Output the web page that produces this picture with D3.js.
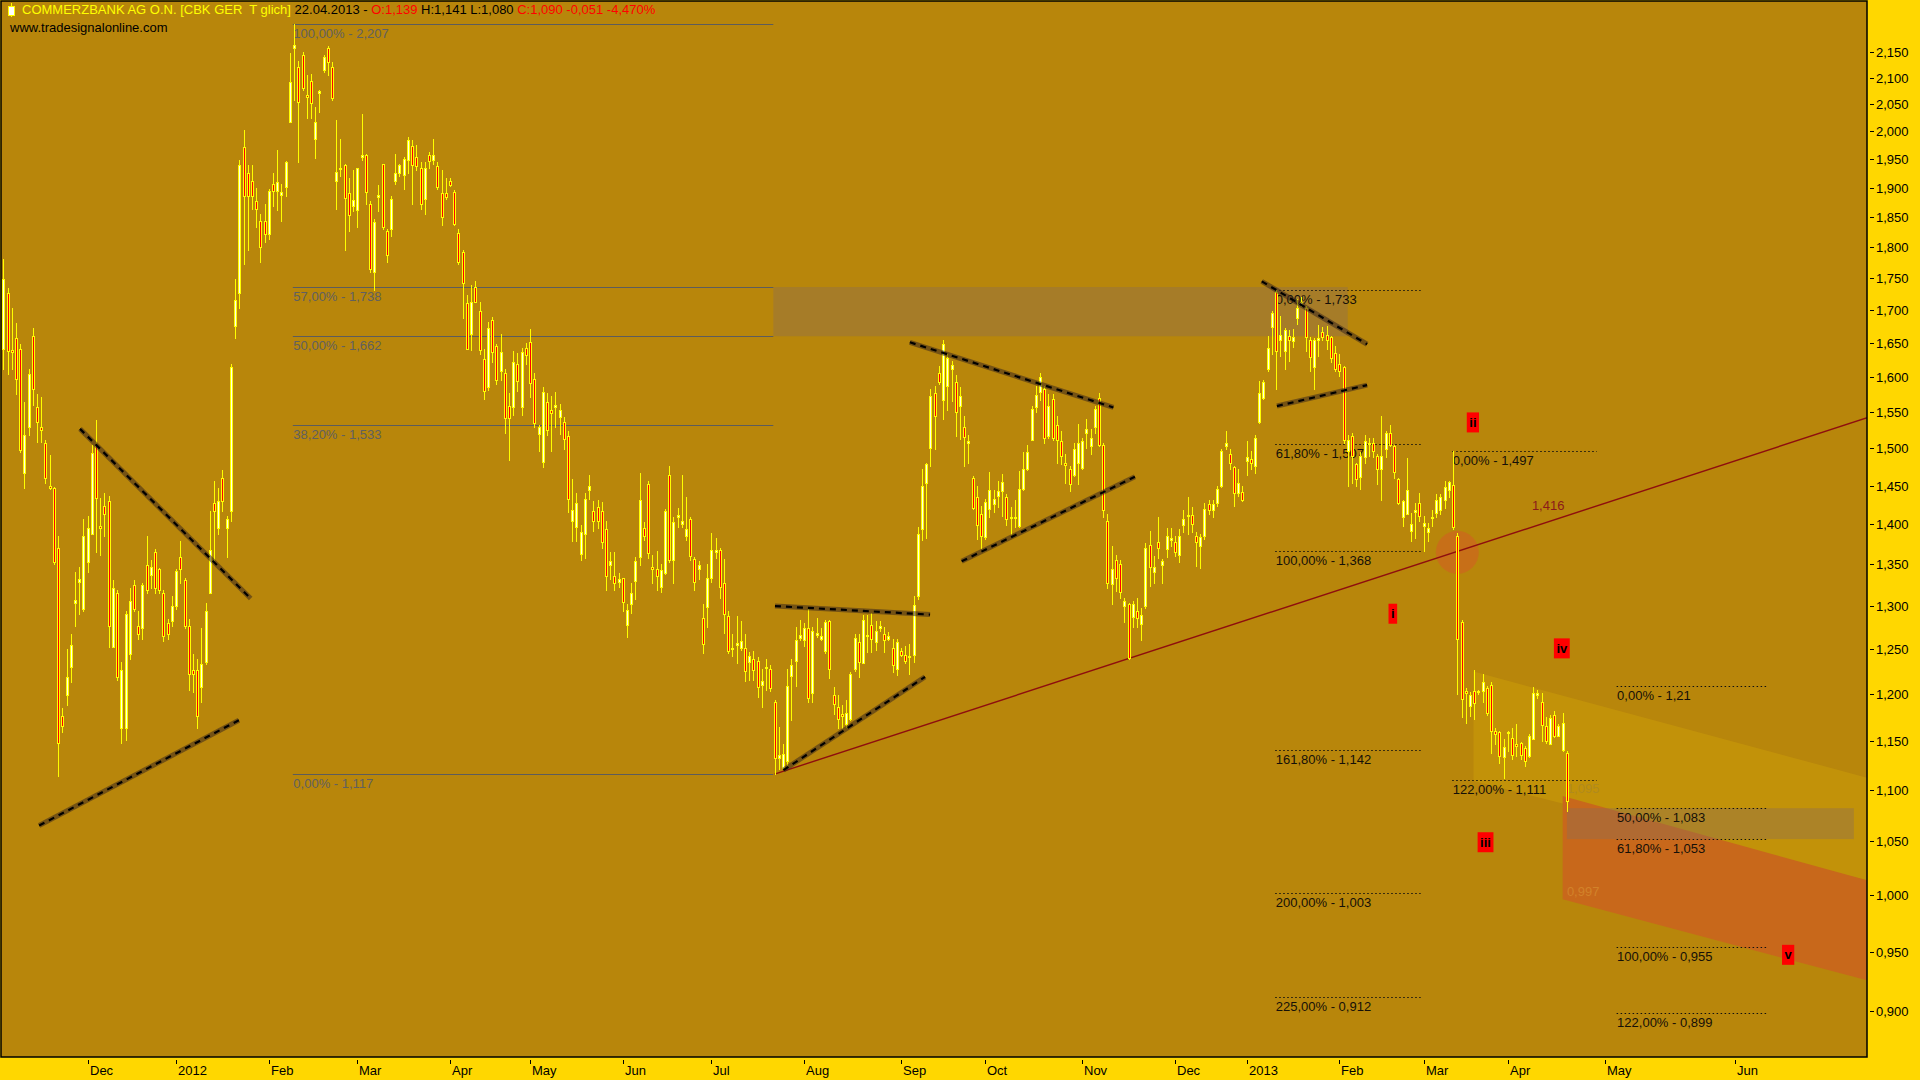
<!DOCTYPE html>
<html><head><meta charset="utf-8">
<script src="https://cdn.jsdelivr.net/npm/d3@7"></script>
<style>
html,body{margin:0;padding:0;background:#FFD700;overflow:hidden;}
svg{display:block;font-family:Arial,"Liberation Sans",sans-serif;}
text{white-space:pre;}
</style>
</head><body>
<svg id="c" width="1920" height="1080"></svg>
<script>
// ---------------- DATA ----------------
const opens=[
1.643,1.729,1.642,1.659,1.643,1.468,1.531,1.663,1.559,1.530,
1.508,1.451,1.448,1.372,1.178,1.200,1.231,1.305,1.330,1.298,
1.354,1.389,1.506,1.399,1.425,1.431,1.254,1.317,1.165,1.165,
1.246,1.326,1.278,1.275,1.351,1.338,1.367,1.346,1.317,1.281,
1.283,1.301,1.360,1.332,1.278,1.228,1.228,1.209,1.237,1.317,
1.428,1.396,1.462,1.396,1.418,1.678,1.729,1.974,1.927,1.914,
1.879,1.845,1.845,1.824,1.909,1.896,1.890,1.904,2.018,2.160,
2.122,2.146,2.068,2.096,1.988,2.073,2.117,2.160,2.122,1.914,
1.935,1.941,1.892,1.870,1.863,1.956,1.959,1.874,1.762,1.886,
1.943,1.828,1.832,1.914,1.927,1.924,1.950,1.975,1.955,1.937,
1.883,1.959,1.950,1.939,1.892,1.892,1.914,1.895,1.826,1.794,
1.713,1.665,1.738,1.700,1.628,1.587,1.686,1.647,1.611,1.608,
1.560,1.558,1.620,1.559,1.644,1.653,1.599,1.521,1.483,1.566,
1.555,1.558,1.544,1.538,1.518,1.405,1.398,1.364,1.389,1.446,
1.418,1.423,1.418,1.395,1.351,1.337,1.330,1.334,1.279,1.304,
1.331,1.360,1.396,1.453,1.348,1.346,1.324,1.341,1.466,1.356,
1.410,1.401,1.386,1.408,1.358,1.346,1.287,1.300,1.335,1.367,
1.369,1.328,1.289,1.252,1.256,1.252,1.252,1.237,1.240,1.238,
1.211,1.230,1.229,1.193,1.133,1.123,1.130,1.221,1.238,1.264,
1.262,1.275,1.202,1.267,1.263,1.249,1.283,1.200,1.187,1.180,
1.169,1.174,1.229,1.259,1.236,1.266,1.279,1.259,1.275,1.268,
1.263,1.252,1.229,1.249,1.244,1.242,1.245,1.313,1.395,1.455,
1.502,1.579,1.608,1.569,1.589,1.614,1.594,1.560,1.530,1.508,
1.462,1.436,1.415,1.385,1.421,1.427,1.438,1.444,1.436,1.411,
1.410,1.399,1.447,1.474,1.513,1.558,1.580,1.584,1.518,1.570,
1.534,1.511,1.481,1.474,1.466,1.482,1.475,1.523,1.505,1.530,
1.571,1.506,1.405,1.327,1.356,1.352,1.301,1.304,1.288,1.295,
1.280,1.301,1.375,1.342,1.379,1.350,1.370,1.381,1.379,1.363,
1.400,1.412,1.413,1.387,1.374,1.387,1.427,1.419,1.429,1.451,
1.505,1.494,1.476,1.442,1.443,1.484,1.487,1.478,1.538,1.572,
1.613,1.676,1.730,1.656,1.640,1.663,1.655,1.690,1.712,1.705,
1.656,1.616,1.656,1.668,1.664,1.661,1.637,1.620,1.617,1.497,
1.518,1.480,1.463,1.489,1.507,1.509,1.491,1.473,1.500,1.523,
1.504,1.460,1.411,1.414,1.393,1.417,1.429,1.399,1.391,1.410,
1.416,1.420,1.432,1.446,1.452,1.386,1.282,1.205,1.188,1.205,
1.203,1.205,1.208,1.211,1.162,1.160,1.134,1.159,1.154,1.148,
1.149,1.144,1.135,1.153,1.200,1.193,1.167,1.148,1.179,1.156,
1.142,1.139];
const highs=[
1.782,1.737,1.705,1.682,1.651,1.566,1.613,1.674,1.577,1.573,
1.513,1.492,1.450,1.386,1.186,1.251,1.269,1.342,1.348,1.408,
1.412,1.506,1.541,1.435,1.441,1.438,1.332,1.320,1.237,1.295,
1.323,1.332,1.295,1.329,1.386,1.357,1.370,1.347,1.320,1.286,
1.313,1.345,1.380,1.335,1.286,1.246,1.240,1.275,1.305,1.418,
1.457,1.448,1.472,1.412,1.620,1.750,1.950,2.005,1.941,1.941,
1.901,1.857,1.874,1.900,1.927,1.968,1.909,1.948,2.150,2.207,
2.134,2.151,2.107,2.109,2.046,2.078,2.146,2.162,2.132,2.023,
1.988,1.943,1.919,1.932,1.937,2.034,1.961,1.879,1.849,1.907,
1.943,1.832,1.888,1.961,1.943,1.955,1.991,1.986,1.977,1.946,
1.946,1.964,1.988,1.946,1.932,1.919,1.919,1.898,1.832,1.798,
1.725,1.741,1.747,1.714,1.643,1.684,1.691,1.650,1.665,1.613,
1.578,1.640,1.637,1.644,1.652,1.673,1.607,1.533,1.587,1.578,
1.575,1.580,1.563,1.544,1.525,1.460,1.442,1.400,1.442,1.466,
1.431,1.433,1.430,1.405,1.367,1.367,1.341,1.335,1.303,1.328,
1.360,1.468,1.404,1.458,1.363,1.368,1.352,1.421,1.477,1.411,
1.422,1.466,1.436,1.410,1.360,1.355,1.303,1.352,1.390,1.384,
1.371,1.358,1.295,1.269,1.289,1.283,1.268,1.248,1.249,1.242,
1.229,1.240,1.233,1.195,1.166,1.148,1.229,1.240,1.277,1.285,
1.281,1.299,1.276,1.287,1.275,1.285,1.285,1.209,1.200,1.189,
1.195,1.225,1.269,1.269,1.291,1.291,1.293,1.283,1.283,1.277,
1.271,1.263,1.263,1.253,1.255,1.257,1.313,1.398,1.473,1.482,
1.584,1.589,1.618,1.656,1.635,1.625,1.605,1.587,1.546,1.520,
1.464,1.451,1.425,1.434,1.469,1.445,1.458,1.467,1.440,1.423,
1.433,1.471,1.496,1.506,1.560,1.589,1.608,1.589,1.577,1.577,
1.546,1.525,1.494,1.477,1.509,1.535,1.516,1.542,1.528,1.560,
1.579,1.509,1.414,1.374,1.363,1.357,1.311,1.305,1.307,1.311,
1.299,1.378,1.393,1.362,1.410,1.358,1.397,1.396,1.387,1.395,
1.419,1.436,1.424,1.391,1.389,1.429,1.433,1.433,1.451,1.500,
1.525,1.500,1.478,1.473,1.451,1.511,1.498,1.520,1.596,1.598,
1.663,1.700,1.733,1.693,1.674,1.671,1.673,1.719,1.722,1.709,
1.661,1.659,1.679,1.676,1.677,1.663,1.647,1.635,1.618,1.520,
1.522,1.482,1.496,1.520,1.516,1.516,1.493,1.546,1.525,1.533,
1.506,1.462,1.433,1.488,1.416,1.429,1.441,1.412,1.403,1.420,
1.440,1.440,1.457,1.457,1.497,1.390,1.285,1.208,1.203,1.228,
1.206,1.223,1.210,1.214,1.165,1.162,1.153,1.162,1.165,1.169,
1.150,1.146,1.158,1.209,1.206,1.202,1.176,1.179,1.183,1.169,
1.181,1.141];
const lows=[
1.613,1.606,1.613,1.577,1.496,1.448,1.520,1.562,1.510,1.510,
1.455,1.447,1.352,1.115,1.160,1.189,1.214,1.278,1.292,1.295,
1.342,1.389,1.367,1.363,1.386,1.254,1.254,1.217,1.149,1.152,
1.240,1.295,1.263,1.263,1.317,1.323,1.317,1.317,1.260,1.263,
1.278,1.298,1.329,1.275,1.206,1.203,1.165,1.192,1.234,1.317,
1.357,1.389,1.418,1.360,1.405,1.659,1.705,1.774,1.798,1.866,
1.836,1.778,1.811,1.815,1.870,1.864,1.845,1.888,2.018,2.059,
1.946,2.078,2.027,2.027,1.954,2.037,2.112,2.107,2.059,1.866,
1.923,1.798,1.828,1.862,1.836,1.950,1.874,1.762,1.734,1.862,
1.832,1.778,1.820,1.909,1.923,1.900,1.927,1.874,1.932,1.866,
1.857,1.937,1.943,1.900,1.839,1.883,1.905,1.839,1.774,1.690,
1.643,1.642,1.714,1.636,1.570,1.583,1.624,1.592,1.597,1.523,
1.485,1.548,1.582,1.548,1.621,1.573,1.531,1.497,1.476,1.519,
1.498,1.531,1.521,1.500,1.417,1.380,1.380,1.357,1.359,1.434,
1.393,1.397,1.372,1.320,1.333,1.320,1.324,1.295,1.265,1.293,
1.309,1.350,1.382,1.359,1.328,1.320,1.318,1.339,1.354,1.329,
1.398,1.398,1.382,1.356,1.320,1.333,1.247,1.277,1.330,1.359,
1.311,1.270,1.247,1.243,1.235,1.250,1.216,1.217,1.217,1.198,
1.187,1.206,1.204,1.117,1.122,1.122,1.126,1.173,1.210,1.261,
1.255,1.193,1.193,1.265,1.261,1.247,1.219,1.180,1.165,1.165,
1.166,1.173,1.227,1.220,1.235,1.248,1.248,1.250,1.272,1.248,
1.261,1.225,1.222,1.243,1.235,1.223,1.237,1.309,1.382,1.384,
1.477,1.500,1.591,1.542,1.555,1.567,1.518,1.514,1.478,1.482,
1.421,1.383,1.372,1.383,1.410,1.417,1.424,1.412,1.400,1.389,
1.398,1.398,1.445,1.472,1.513,1.551,1.569,1.508,1.515,1.513,
1.482,1.480,1.455,1.444,1.464,1.453,1.473,1.502,1.493,1.523,
1.504,1.411,1.322,1.303,1.319,1.311,1.282,1.240,1.277,1.277,
1.262,1.299,1.325,1.329,1.359,1.329,1.360,1.374,1.362,1.354,
1.391,1.389,1.391,1.349,1.347,1.383,1.414,1.411,1.425,1.449,
1.500,1.473,1.425,1.438,1.431,1.466,1.473,1.468,1.536,1.570,
1.611,1.636,1.584,1.633,1.613,1.625,1.646,1.680,1.709,1.640,
1.611,1.584,1.633,1.656,1.643,1.623,1.611,1.603,1.508,1.451,
1.455,1.451,1.447,1.482,1.491,1.489,1.453,1.433,1.489,1.504,
1.462,1.427,1.399,1.414,1.380,1.384,1.405,1.368,1.380,1.399,
1.410,1.414,1.422,1.437,1.395,1.201,1.176,1.170,1.177,1.174,
1.201,1.193,1.179,1.139,1.148,1.128,1.113,1.141,1.132,1.136,
1.132,1.125,1.134,1.153,1.197,1.151,1.149,1.148,1.155,1.156,
1.141,1.080];
const closes=[
1.750,1.640,1.638,1.599,1.499,1.520,1.606,1.584,1.538,1.526,
1.462,1.448,1.354,1.149,1.167,1.220,1.256,1.308,1.333,1.386,
1.397,1.495,1.435,1.396,1.415,1.278,1.323,1.220,1.228,1.292,
1.307,1.298,1.269,1.326,1.320,1.348,1.323,1.320,1.266,1.269,
1.301,1.343,1.345,1.278,1.223,1.223,1.178,1.234,1.295,1.369,
1.418,1.431,1.431,1.408,1.617,1.717,1.941,1.888,1.888,1.888,
1.866,1.803,1.824,1.897,1.896,1.911,1.894,1.947,2.093,2.165,
2.056,2.083,2.065,2.053,2.018,2.076,2.141,2.132,2.064,1.929,
1.937,1.884,1.855,1.881,1.937,1.959,1.894,1.766,1.843,1.890,
1.836,1.790,1.882,1.927,1.941,1.952,1.986,1.941,1.939,1.874,
1.937,1.948,1.959,1.903,1.852,1.886,1.907,1.841,1.778,1.745,
1.643,1.714,1.715,1.642,1.582,1.675,1.639,1.597,1.638,1.543,
1.543,1.623,1.596,1.639,1.634,1.593,1.536,1.531,1.580,1.526,
1.550,1.561,1.555,1.514,1.434,1.420,1.428,1.392,1.434,1.451,
1.405,1.406,1.379,1.337,1.355,1.328,1.333,1.306,1.296,1.317,
1.355,1.432,1.386,1.365,1.346,1.337,1.344,1.418,1.356,1.404,
1.413,1.406,1.395,1.361,1.330,1.350,1.257,1.335,1.369,1.369,
1.324,1.292,1.249,1.253,1.258,1.260,1.227,1.243,1.228,1.209,
1.215,1.231,1.208,1.133,1.137,1.138,1.210,1.233,1.262,1.267,
1.275,1.197,1.272,1.270,1.266,1.282,1.229,1.190,1.174,1.178,
1.181,1.223,1.264,1.237,1.285,1.267,1.263,1.272,1.278,1.261,
1.266,1.233,1.259,1.245,1.238,1.243,1.302,1.389,1.451,1.480,
1.575,1.546,1.594,1.651,1.630,1.619,1.551,1.574,1.517,1.511,
1.422,1.400,1.387,1.430,1.445,1.434,1.444,1.456,1.408,1.409,
1.411,1.447,1.474,1.496,1.556,1.576,1.601,1.515,1.560,1.515,
1.513,1.491,1.479,1.453,1.500,1.509,1.511,1.528,1.516,1.556,
1.506,1.420,1.329,1.346,1.334,1.318,1.307,1.241,1.304,1.287,
1.291,1.371,1.348,1.348,1.371,1.355,1.387,1.384,1.366,1.387,
1.408,1.413,1.402,1.379,1.385,1.421,1.420,1.427,1.447,1.498,
1.509,1.482,1.442,1.455,1.433,1.490,1.482,1.516,1.579,1.594,
1.645,1.697,1.640,1.664,1.672,1.657,1.661,1.705,1.714,1.661,
1.631,1.656,1.659,1.661,1.657,1.629,1.614,1.611,1.513,1.513,
1.491,1.460,1.491,1.511,1.509,1.497,1.473,1.491,1.522,1.506,
1.469,1.429,1.431,1.446,1.402,1.420,1.412,1.403,1.396,1.411,
1.433,1.436,1.449,1.456,1.398,1.263,1.196,1.202,1.200,1.191,
1.204,1.214,1.181,1.162,1.158,1.136,1.145,1.160,1.137,1.146,
1.137,1.130,1.156,1.202,1.202,1.168,1.151,1.175,1.156,1.167,
1.170,1.090];

const firstDate="2011-11-03";
const holidays=["2011-12-26","2012-04-06","2012-04-09","2012-05-01","2012-12-24","2012-12-25","2012-12-26","2012-12-31","2013-01-01","2013-03-29","2013-04-01"];
const tickLabels=["Dec","2012","Feb","Mar","Apr","May","Jun","Jul","Aug","Sep","Oct","Nov","Dec","2013","Feb","Mar","Apr","May","Jun"];
const tickDates=["2011-12-01","2012-01-02","2012-02-01","2012-03-01","2012-04-02","2012-05-02","2012-06-01","2012-07-02","2012-08-01","2012-09-03","2012-10-01","2012-11-01","2012-12-03","2013-01-02","2013-02-01","2013-03-01","2013-04-02","2013-05-01","2013-06-01"];
const yTicks=[0.90,0.95,1.00,1.05,1.10,1.15,1.20,1.25,1.30,1.35,1.40,1.45,1.50,1.55,1.60,1.65,1.70,1.75,1.80,1.85,1.90,1.95,2.00,2.05,2.10,2.15];

// Fibonacci tools: labels, values, [startSlot,endSlot]
const fibMainLevels=["100,00%","57,00%","50,00%","38,20%","0,00%"];
const fibMainValues=[2.207,1.738,1.662,1.533,1.117];
const fibMainSpan=[68.7,182.7];
const fibALevels=["0,00%","61,80%","100,00%","161,80%","200,00%","225,00%"];
const fibAValues=[1.733,1.507,1.368,1.142,1.003,0.912];
const fibASpan=[301.8,336.3];
const fibBLevels=["0,00%","122,00%"];
const fibBValues=[1.497,1.111];
const fibBSpan=[343.8,378.1];
const fibCLevels=["0,00%","50,00%","61,80%","100,00%","122,00%"];
const fibCValues=[1.21,1.083,1.053,0.955,0.899];
const fibCSpan=[382.8,418.5];

// zones [slot, price]
const zoneTop=[[182.7,1.738],[319.0,1.662]];
const zoneLow=[[371.0,1.083],[439.1,1.053]];
const lightBand=[[348.85,1.226],[442.5,1.113],[442.5,1.014],[348.85,1.110]];
const orangeBand=[[370.0,1.095],[442.5,1.014],[442.5,0.926],[370.0,0.997]];
const bandLabels=["1,095","0,997"];
const bandLabelPos=[[371.0,1.095],[371.0,0.997]];
const circlePos=[345.0,1.366];
const supportLine=[[183,1.117],[442.5,1.544]];
const supportLabel="1,416";
const supportLabelPos=[362.7,1.416];

const trendLines=[
 [[18.2,1.528],[58.7,1.310]],
 [[8.5,1.066],[55.9,1.173]],
 [[183.1,1.301],[219.9,1.291]],
 [[185.1,1.121],[218.7,1.220]],
 [[215.1,1.653],[263.4,1.558]],
 [[227.4,1.355],[268.5,1.463]],
 [[298.6,1.747],[323.6,1.650]],
 [[302.2,1.560],[323.6,1.590]]
];
const waveLabels=["i","ii","iii","iv","v"];
const waveSlots=[329.7,348.7,351.7,369.8,423.5];
const wavePrices=[1.292,1.537,1.050,1.252,0.948];

// ---------------- DATES -> SLOTS ----------------
const dates=[];
{
  let d=new Date(firstDate+"T00:00:00Z");
  while(dates.length<closes.length){
    const wd=d.getUTCDay(); const iso=d.toISOString().slice(0,10);
    if(wd>0&&wd<6&&!holidays.includes(iso)) dates.push(iso);
    d.setUTCDate(d.getUTCDate()+1);
  }
}
const lastDate=new Date(dates[dates.length-1]+"T00:00:00Z");
function slotOf(iso){
  const i=dates.indexOf(iso); if(i>=0) return i;
  return dates.length-1+Math.round((new Date(iso+"T00:00:00Z")-lastDate)/86400000);
}

// ---------------- SCALES ----------------
const W=1920,H=1080;
const x=d3.scaleLinear().domain([0,442]).range([3.3,3.3+442*4.2145]);
const y=d3.scaleLog().domain([0.899,2.207]).range([1013.3,23.8]);
const P=([s,p])=>[x(s),y(p)];
const px=v=>Math.round(v)+0.5;
const fmt=v=>String(v).replace(".",",");

const svg=d3.select("#c");
svg.append("rect").attr("width",W).attr("height",H).attr("fill","#FFD700");
svg.append("rect").attr("x",1).attr("y",1).attr("width",1866).attr("height",1056).attr("fill","#B8860B");
svg.append("defs").append("clipPath").attr("id","clip").append("rect")
  .attr("x",1.5).attr("y",1.5).attr("width",1865.5).attr("height",1055.5);
const g=svg.append("g").attr("clip-path","url(#clip)");

// zones
const rectOf=(z)=>{const [a,b]=z.map(P);return {x:a[0],y:a[1],w:b[0]-a[0],h:b[1]-a[1]};};
{const r=rectOf(zoneTop);
 g.append("rect").attr("x",r.x).attr("y",r.y).attr("width",r.w).attr("height",r.h).attr("fill","rgba(139,109,84,0.4)");}
g.append("polygon").attr("points",lightBand.map(P).map(p=>p.join(",")).join(" ")).attr("fill","rgba(255,215,0,0.15)");
g.append("polygon").attr("points",orangeBand.map(P).map(p=>p.join(",")).join(" ")).attr("fill","#C8681B");
{const r=rectOf(zoneLow);
 g.append("rect").attr("x",r.x).attr("y",r.y).attr("width",r.w).attr("height",r.h).attr("fill","rgba(139,109,84,0.4)");}
g.append("circle").attr("cx",x(circlePos[0])).attr("cy",y(circlePos[1])).attr("r",21.5)
  .attr("fill","#CD661D").attr("opacity",0.72);
bandLabels.forEach((t,i)=>{
  g.append("text").attr("x",x(bandLabelPos[i][0])).attr("y",y(bandLabelPos[i][1])-3)
   .attr("font-size",13).attr("fill",i===0?"#B08A1E":"#D2822A").text(t);
});

// fib main (solid gray)
const fm=g.append("g");
fibMainValues.forEach((v,i)=>{
  const yy=px(y(v));
  fm.append("line").attr("x1",x(fibMainSpan[0])).attr("x2",x(fibMainSpan[1])).attr("y1",yy).attr("y2",yy)
    .attr("stroke","#5C5C5C").attr("stroke-width",1);
  fm.append("text").attr("x",x(fibMainSpan[0])+0.5).attr("y",yy+13.5).attr("font-size",13)
    .attr("fill","#606060").text(fibMainLevels[i]+" - "+fmt(v));
});
// dotted fib extension sets
function fibSet(levels,values,span){
  values.forEach((v,i)=>{
    const yy=px(y(v));
    g.append("line").attr("x1",x(span[0])).attr("x2",x(span[1])).attr("y1",yy).attr("y2",yy)
      .attr("stroke","#111").attr("stroke-width",1).attr("stroke-dasharray","1.5,2.5");
    g.append("text").attr("x",x(span[0])+0.5).attr("y",yy+13.5).attr("font-size",13)
      .attr("fill","#151008").text(levels[i]+" - "+fmt(v));
  });
}
fibSet(fibALevels,fibAValues,fibASpan);
fibSet(fibBLevels,fibBValues,fibBSpan);
fibSet(fibCLevels,fibCValues,fibCSpan);

// support line (dark red)
{const [a,b]=supportLine.map(P);
 g.append("line").attr("x1",a[0]).attr("y1",a[1]).attr("x2",b[0]).attr("y2",b[1])
  .attr("stroke","#8E0E0E").attr("stroke-width",1.4);}

// candles
const idx=d3.range(closes.length);
const cg=g.append("g").attr("shape-rendering","crispEdges");
cg.selectAll("line").data(idx).join("line")
  .attr("x1",i=>Math.round(x(i))+0.5).attr("x2",i=>Math.round(x(i))+0.5)
  .attr("y1",i=>Math.round(y(highs[i]))).attr("y2",i=>Math.round(y(lows[i]))+1)
  .attr("stroke","#FFFF00").attr("stroke-width",1);
cg.selectAll("rect").data(idx).join("rect")
  .attr("x",i=>Math.round(x(i))-0.5).attr("width",2)
  .attr("y",i=>Math.round(y(Math.max(opens[i],closes[i])))+0.5)
  .attr("height",i=>Math.max(1,Math.round(y(Math.min(opens[i],closes[i])))-Math.round(y(Math.max(opens[i],closes[i])))))
  .attr("fill",i=>closes[i]>=opens[i]?"#FFFFE6":"#FF0000")
  .attr("stroke","#FFFF00").attr("stroke-width",1);

// dashed trendlines
trendLines.forEach(l=>{
  const [a,b]=l.map(P);
  g.append("line").attr("x1",a[0]).attr("y1",a[1]).attr("x2",b[0]).attr("y2",b[1])
   .attr("stroke","rgba(60,40,30,0.55)").attr("stroke-width",5);
  g.append("line").attr("x1",a[0]).attr("y1",a[1]).attr("x2",b[0]).attr("y2",b[1])
   .attr("stroke","#000").attr("stroke-width",2.2).attr("stroke-dasharray","6,5");
});

// support label
g.append("text").attr("x",x(supportLabelPos[0])).attr("y",y(supportLabelPos[1])-3)
  .attr("font-size",13).attr("fill","#8B1A1A").text(supportLabel);

// wave boxes
waveLabels.forEach((t,i)=>{
  const cx=x(waveSlots[i]), cy=y(wavePrices[i]);
  const tx=g.append("text").attr("x",cx).attr("y",cy+4.5).attr("text-anchor","middle")
    .attr("font-size",13).attr("font-weight","bold").attr("fill","#000").text(t);
  const w=tx.node().getComputedTextLength()+5;
  g.insert("rect",()=>tx.node()).attr("x",cx-w/2).attr("y",cy-10).attr("width",w).attr("height",20).attr("fill","#FF0000");
});

// header
const hd=svg.append("text").attr("x",22).attr("y",14).attr("font-size",13);
hd.append("tspan").attr("fill","#FFFF00").text("COMMERZBANK AG O.N. [CBK GER  T glich]");
hd.append("tspan").attr("fill","#000").text(" 22.04.2013 - ");
hd.append("tspan").attr("fill","#FF0000").text("O:1,139");
hd.append("tspan").attr("fill","#000").text(" H:1,141 L:1,080 ");
hd.append("tspan").attr("fill","#FF0000").text("C:1,090 -0,051 -4,470%");
svg.append("line").attr("x1",11.5).attr("x2",11.5).attr("y1",3).attr("y2",17).attr("stroke","#FFFF00");
svg.append("rect").attr("x",8.5).attr("y",6.5).attr("width",6).attr("height",9).attr("fill","#FFFFFF").attr("stroke","#FFFF00");
svg.append("text").attr("x",10).attr("y",32).attr("font-size",13).attr("fill","#000").text("www.tradesignalonline.com");

// border
svg.append("rect").attr("x",1).attr("y",1).attr("width",1866).attr("height",1056)
  .attr("fill","none").attr("stroke","#000").attr("stroke-width",1.5);

// y axis
const ya=svg.append("g");
yTicks.forEach(v=>{
  const yy=px(y(v));
  ya.append("line").attr("x1",1870).attr("x2",1874).attr("y1",yy-1).attr("y2",yy-1).attr("stroke","#000");
  ya.append("text").attr("x",1876).attr("y",yy+3.5).attr("font-size",13).attr("fill","#000")
    .text(d3.format(".3f")(v).replace(".",","));
});
// x axis
const xa=svg.append("g");
tickLabels.forEach((t,i)=>{
  const xx=px(x(slotOf(tickDates[i])));
  xa.append("line").attr("x1",xx).attr("x2",xx).attr("y1",1060).attr("y2",1064).attr("stroke","#000");
  xa.append("text").attr("x",xx+1.5).attr("y",1075).attr("font-size",13).attr("fill","#000").text(t);
});
</script>
</body></html>
